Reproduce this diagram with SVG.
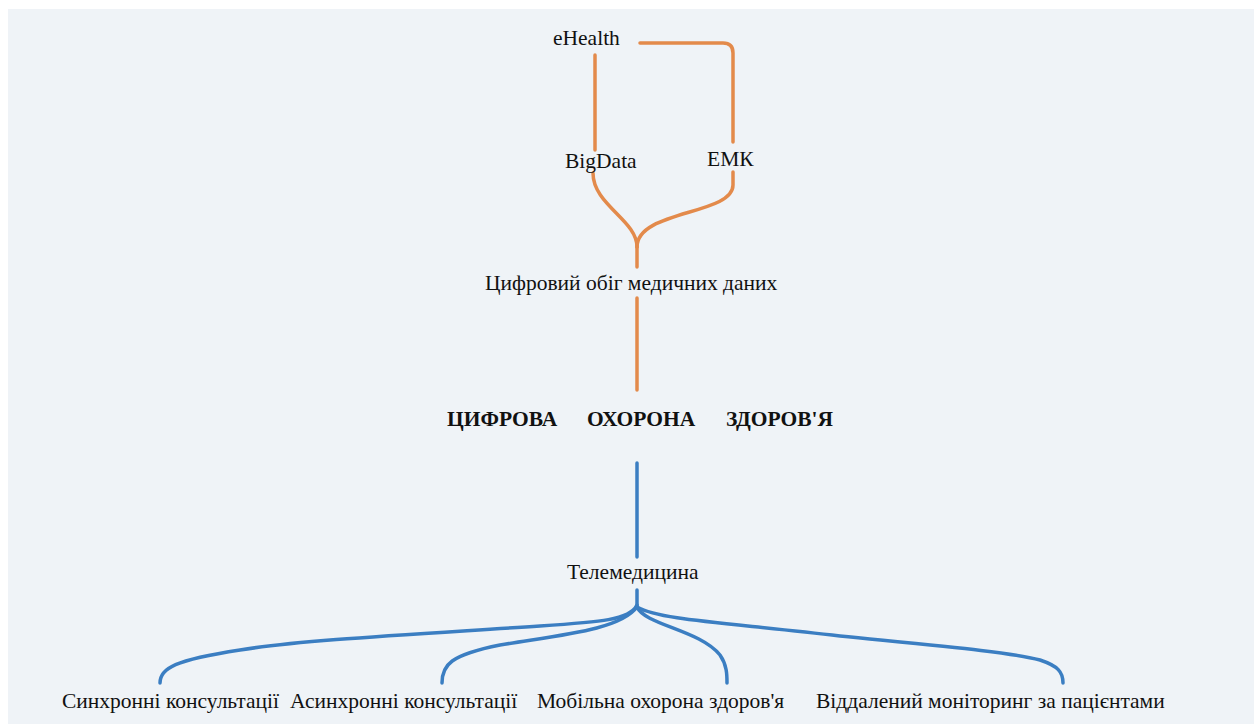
<svg xmlns="http://www.w3.org/2000/svg" width="1254" height="724" viewBox="0 0 1254 724">
<style>
text{font-family:"Liberation Serif","Times New Roman",serif;font-size:21.5px;fill:#111}
.b{font-weight:bold}
.o{fill:none;stroke:#e38a4b;stroke-width:3.5;stroke-linecap:round;stroke-linejoin:round}
.u{fill:none;stroke:#3b7ec2;stroke-width:3.5;stroke-linecap:round;stroke-linejoin:round}
</style>
<rect x="0" y="0" width="1254" height="724" fill="#ffffff"/>
<rect x="8" y="9" width="1246" height="715" fill="#eff3f7"/>
<g id="connectors">
<path class="o" d="M595,55 V150"/>
<path class="o" d="M640,43 H723 Q733,43 733,53 V142"/>
<path class="o" d="M593,173 C593,205 637,220 637,247"/>
<path class="o" d="M733,172 V185 C733,215 637,210 637,247"/>
<path class="o" d="M637,247 V267"/>
<path class="o" d="M637,298 V390"/>
<path class="u" d="M637,463 V557"/>
<path class="u" d="M637,590 V607"/>
<path class="u" d="M637,605 C630,620 600,622 540,626 C420,634 300,640 240,650 C175,660 160,668 160,683"/>
<path class="u" d="M637,607 C620,630 560,635 500,645 C450,655 442,665 442,683"/>
<path class="u" d="M637,607 C645,625 700,630 720,655 C727,665 727,675 727,683"/>
<path class="u" d="M637,607 C660,620 720,622 840,636 C940,646 1010,652 1040,660 C1058,666 1063,672 1063,683"/>
</g>
<g id="ehealth"><text x="553" y="45">eHealth</text></g>
<g id="bigdata"><text x="565" y="168">BigData</text></g>
<g id="emk"><text x="707" y="166">ЕМК</text></g>
<g id="digital-data"><text x="485" y="290">Цифровий обіг медичних даних</text></g>
<g id="title"><text class="b" x="447" y="426">ЦИФРОВА</text><text class="b" x="587" y="426">ОХОРОНА</text><text class="b" x="726" y="426">ЗДОРОВ'Я</text></g>
<g id="telemedicine"><text x="567" y="579">Телемедицина</text></g>
<g id="sync"><text x="62" y="708">Синхронні консультації</text></g>
<g id="async"><text x="290" y="708">Асинхронні консультації</text></g>
<g id="mobile"><text x="537" y="708">Мобільна охорона здоров'я</text></g>
<g id="remote"><text x="816" y="708">Віддалений моніторинг за пацієнтами</text></g>
</svg>
